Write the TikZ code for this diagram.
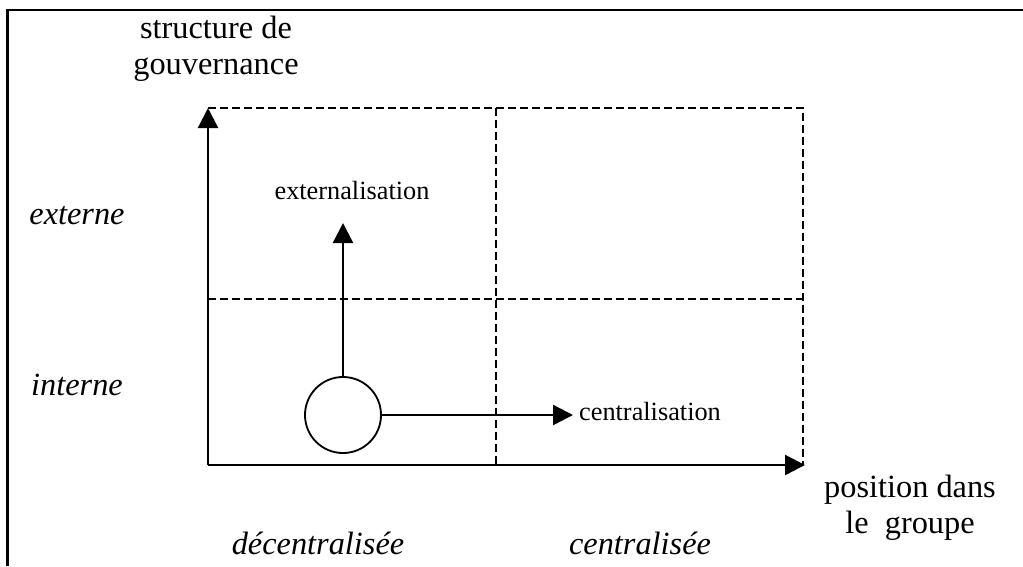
\documentclass[tikz,border=0pt]{standalone}
\usepackage{fontspec}
\setmainfont{Liberation Serif}
\usetikzlibrary{arrows.meta,positioning}
\tikzstyle{arrow} = [line width=1.6pt,-{Triangle[length=0.5cm,width=0.5cm]}]
\tikzstyle{grid} = [line width=1.3pt,dash pattern=on 0.2cm off 0.1cm]
\tikzstyle{big} = [font=\fontsize{23}{25.8}\selectfont, align=center, inner sep=0pt]
\tikzstyle{slant} = [font=\fontsize{23}{25.8}\selectfont\itshape, inner sep=0pt]
\tikzstyle{small} = [font=\fontsize{18.7}{21}\selectfont, inner sep=0pt]

\begin{document}
\begin{tikzpicture}[x=0.025cm,y=-0.025cm]
\useasboundingbox (0,0) rectangle (1023,566);
% frame
\draw[line width=1.6pt] (7.5,566) -- (7.5,10) -- (1023,10);
% axes
\coordinate (o) at (208,465);
\coordinate (ytip) at (208,108);
\coordinate (xtip) at (805,465);
\coordinate (tr) at (803,108);
\coordinate (tm) at (496,108);
\coordinate (bm) at (496,465);
\coordinate (ml) at (208,299);
\coordinate (mr) at (803,299);
\draw[grid] (ytip) -- (tr) -- (803,465);
\draw[grid] (tm) -- (bm);
\draw[grid] (ml) -- (mr);
\draw[arrow] (o) -- (ytip);
\draw[arrow] (o) -- (xtip);
% circle and moves
\node (firm) at (343,415) [draw, circle, line width=1.3pt, minimum size=1.9cm] {};
\coordinate (ext) at (343,223);
\coordinate (cent) at (573,415);
\draw[arrow] (firm.north) -- (ext);
\draw[arrow] (firm.east) -- (cent);
\node[small] (lext) at (352,191) {externalisation};
\node[small] (lcent) at (650,411) {centralisation};
% axis labels
\node[big] (ylab) at (216,49) {structure de\\gouvernance};
\node[big] (xlab) at (910,508) {position dans\\le\ \ groupe};
\node[slant] (lexterne) at (77,216) {externe};
\node[slant] (linterne) at (77,385) {interne};
\node[slant] (ldec) at (318,543) {décentralisée};
\node[slant] (lcen) at (640,543) {centralisée};
\end{tikzpicture}
\end{document}
